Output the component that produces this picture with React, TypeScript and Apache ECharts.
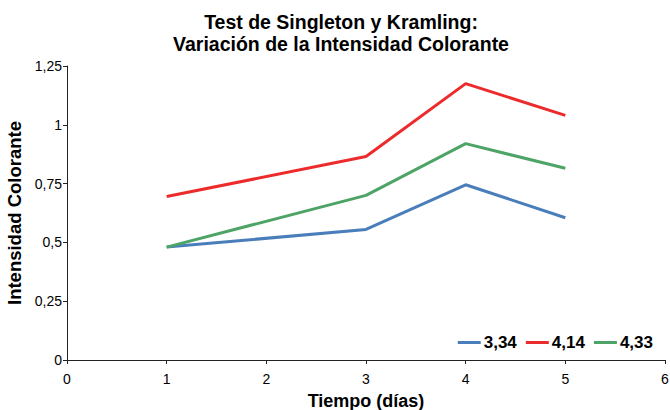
import React, { useEffect, useRef } from "react";
import * as echarts from "echarts";

const days = [1, 3, 4, 5];
const seriesNames = ["3,34", "4,14", "4,33"];
const serie334 = [0.48, 0.555, 0.745, 0.605];
const serie414 = [0.695, 0.865, 1.175, 1.04];
const serie433 = [0.48, 0.7, 0.92, 0.815];
const colors = ["#4A7EBB", "#EC2B2C", "#4EA466"];
const yTicks = [0, 0.25, 0.5, 0.75, 1, 1.25];

const fmt = (v: number) => String(v).replace(".", ",");
const FONT = "Liberation Sans, Arial, sans-serif";

export default function App() {
  const ref = useRef<HTMLDivElement>(null);
  useEffect(() => {
    if (!ref.current) return;
    const chart = echarts.init(ref.current, null, { renderer: "svg" });
    const values = [serie334, serie414, serie433];
    chart.setOption({
      animation: false,
      backgroundColor: "#ffffff",
      textStyle: { fontFamily: FONT },
      title: {
        text: "Test de Singleton y Kramling:\nVariación de la Intensidad Colorante",
        left: 336,
        textAlign: "center",
        top: 6,
        textStyle: {
          fontSize: 19.5,
          fontWeight: "bold",
          color: "#000",
          lineHeight: 22,
          fontFamily: FONT,
        },
      },
      legend: {
        data: seriesNames,
        right: 12,
        top: 329,
        itemWidth: 23,
        itemHeight: 3,
        itemGap: 9,
        icon: "rect",
        textStyle: {
          fontSize: 17,
          fontWeight: "bold",
          color: "#000",
          padding: [0, 0, 0, -2],
          fontFamily: FONT,
        },
      },
      grid: { left: 67, right: 5, top: 66, bottom: 50, containLabel: false, outerBoundsMode: "none" },
      xAxis: {
        type: "value",
        min: 0,
        max: 6,
        interval: 1,
        name: "Tiempo (días)",
        nameLocation: "middle",
        nameGap: 26,
        nameTextStyle: { fontSize: 18, lineHeight: 20, fontWeight: "bold", color: "#000" },
        axisLine: { lineStyle: { color: "#222", width: 1 } },
        axisTick: { show: true, length: 4, lineStyle: { color: "#222" } },
        axisLabel: { fontSize: 14, color: "#000", margin: 12 },
        splitLine: { show: false },
      },
      yAxis: {
        type: "value",
        min: yTicks[0],
        max: yTicks[yTicks.length - 1],
        interval: 0.25,
        name: "Intensidad Colorante",
        nameLocation: "middle",
        nameGap: 42,
        nameTextStyle: { fontSize: 18.5, fontWeight: "bold", color: "#000" },
        axisLine: { show: true, lineStyle: { color: "#222", width: 1 } },
        axisTick: { show: true, length: 4, lineStyle: { color: "#222" } },
        axisLabel: { fontSize: 14, color: "#000", margin: 5, formatter: fmt },
        splitLine: { show: false },
      },
      series: seriesNames.map((name, i) => ({
        name,
        type: "line",
        data: days.map((d, j) => [d, values[i][j]]),
        showSymbol: false,
        symbol: "none",
        lineStyle: { color: colors[i], width: 3 },
        itemStyle: { color: colors[i] },
      })),
    });
    return () => chart.dispose();
  }, []);
  return <div ref={ref} style={{ width: 670, height: 410, position: "absolute", left: 0, top: 0 }} />;
}
